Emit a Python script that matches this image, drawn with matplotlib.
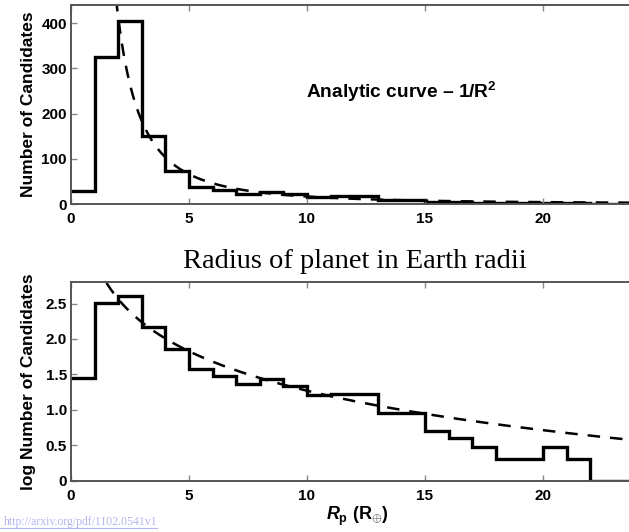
import numpy as np
import matplotlib
matplotlib.use("Agg")
import matplotlib.pyplot as plt

# counts per 1 R_earth bin
bin_edges = list(range(0, 25))
counts = [28, 325, 405, 150, 73, 38, 30, 23, 27, 22, 16, 17, 17, 9, 9, 5, 4, 3, 2, 2, 3, 2, 0, 1]

# analytic curve coefficients
top_amp = 1650.0          # N = A / R^2
log_amp = 3.12            # log N = a - b log R
log_slope = 1.85

xticks = [0, 5, 10, 15, 20]
top_yticks = [0, 100, 200, 300, 400]
bot_yticks = [0, 0.5, 1.0, 1.5, 2.0, 2.5]
bot_yticklabels = ["0", "0.5", "1.0", "1.5", "2.0", "2.5"]

plt.rcParams['font.family'] = ['Liberation Sans', 'DejaVu Sans']
plt.rcParams['font.weight'] = 'bold'
plt.rcParams['mathtext.fontset'] = 'custom'
plt.rcParams['mathtext.rm'] = 'Liberation Sans:bold'
plt.rcParams['mathtext.bf'] = 'Liberation Sans:bold'
plt.rcParams['mathtext.it'] = 'Liberation Sans:bold:italic'

W, H = 629, 532
fig = plt.figure(figsize=(W / 100, H / 100), dpi=100)

px = 23.6  # pixels per x unit
xmax = 25
ax_w = xmax * px / W
ax1 = fig.add_axes([71 / W, (H - 204) / H, ax_w, 199 / H])
ax2 = fig.add_axes([71 / W, (H - 480.7) / H, ax_w, 198.4 / H])

counts = np.array(counts, dtype=float)
log_counts = np.where(counts > 0, np.log10(np.maximum(counts, 1)), 0)

r = np.linspace(0.5, xmax, 600)

ax1.stairs(counts, bin_edges, color='black', lw=2.4, baseline=None)
ax1.plot(r, top_amp / r ** 2, color='black', lw=1.8, dashes=(5, 4))
ax1.set_ylim(0, 440)
ax1.set_yticks(top_yticks)
ax1.set_ylabel("Number of Candidates", fontsize=12.5, fontweight='bold')
ax1.text(9.95, 248, "Analytic curve \u2013 1/R$^{2}$", fontsize=13.8, fontweight='bold',
         va='center', ha='left')

ax2.stairs(log_counts, bin_edges, color='black', lw=2.4, baseline=None)
ax2.plot(r, log_amp - log_slope * np.log10(r), color='black', lw=1.8, dashes=(5, 4))
ax2.set_ylim(0, 2.8)
ax2.set_yticks(bot_yticks)
ax2.set_yticklabels(bot_yticklabels)
ax2.set_ylabel("log Number of Candidates", fontsize=12.5, fontweight='bold')
ax2.set_xlabel(r"$\mathit{R}_{\mathrm{p}}$ (R$_{\oplus}$)", fontsize=13, fontweight='bold')
ax2.xaxis.set_label_coords((357 - 71) / (xmax * px), -0.12)

# y labels: visual centre at x ~ 27 px
lab_x = (36 - 71) / (xmax * px)
ax1.yaxis.set_label_coords(lab_x, 0.5)
ax2.yaxis.set_label_coords(lab_x, 0.5)

for ax in (ax1, ax2):
    ax.set_xlim(0, xmax)
    ax.set_xticks(xticks)
    for s in ax.spines.values():
        s.set_color('#555555')
        s.set_linewidth(1.4)
    ax.tick_params(direction='in', length=4, width=1, color='#888888',
                   top=True, right=True, labelsize=11)
    ax.tick_params(axis='x', pad=6)
    ax.tick_params(axis='y', pad=3)
    for lab in ax.get_xticklabels() + ax.get_yticklabels():
        lab.set_fontweight('bold')

fig.text(355 / W, 1 - 261 / H, "Radius of planet in Earth radii", family='Liberation Serif',
         fontweight='normal', fontsize=20.5, ha='center', va='center')

fig.text(157 / W, 1 - 522 / H, "http://arxiv.org/pdf/1102.0541v1", family='Liberation Serif',
         fontweight='normal', fontsize=8.5, color='#b4b8f0', ha='right', va='center')
fig.add_artist(plt.Line2D([0, 157 / W], [1 - 528 / H, 1 - 528 / H], color='#b4b8f0', lw=0.8))

fig.savefig("out.png", dpi=100)
